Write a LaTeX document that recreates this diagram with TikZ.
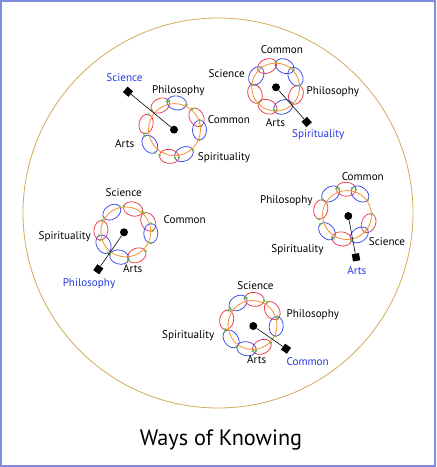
\documentclass[tikz,border=0pt]{standalone}
\usepackage{fontspec}
\setmainfont{PT Sans}
\usepackage{tikz}
\definecolor{framecol}{RGB}{128,140,224}
\definecolor{rimcol}{RGB}{212,172,92}
\definecolor{ringcol}{RGB}{246,146,50}
\definecolor{petred}{RGB}{234,60,72}
\definecolor{petblue}{RGB}{60,74,234}
\definecolor{jointcol}{RGB}{104,184,76}
\definecolor{keyblue}{RGB}{36,56,222}

\begin{document}
\begin{tikzpicture}[x=0.03cm,y=0.03cm,
  lbl/.style={anchor=base,font=\fontsize{9.5}{11}\selectfont},
  keylbl/.style={lbl,text=keyblue},
  petal/.style={line width=0.65pt},
  ring/.style={draw=ringcol,line width=0.7pt},
  joint/.style={fill=jointcol},
  hub/.style={circle,fill=black,inner sep=0pt,minimum size=6.8pt},
  tipbox/.style={rectangle,fill=black,inner sep=0pt,minimum size=6.2pt},
  stem/.style={line width=0.5pt}]
  \useasboundingbox (0,0) rectangle (436,467);
  \draw[framecol,line width=1.3pt] (0.8,0.8) rectangle (435.2,466.2);
  \draw[rimcol,line width=0.7pt] (218,254) circle (195);

  % wheel one
  \begin{scope}[shift={(172.5,337.4)}]
    \foreach \a/\c in {117/petred,81/petblue,27/petred,-1/petblue,-65/petblue,-97/petred,-147/petblue,168/petred} {
      \draw[petal,\c,rotate=\a] (27,0) ellipse (7 and 9.8);
      \fill[joint,rotate=\a] (27,9.8) circle (1.4) (27,-9.8) circle (1.4);
    }
    \draw[ring] (2,0) circle (26);
  \end{scope}
  \node[hub] (hubA) at (174,337.3) {};
  \node[tipbox,rotate=140] (tipA) at (128,375.3) {};
  \draw[stem] (hubA) -- (tipA);
  \node[keylbl] (sciA) at (124.5,385.7) {Science};
  \node[lbl] (phiA) at (178.3,373) {Philosophy};
  \node[lbl] (comA) at (229,343.7) {Common};
  \node[lbl] (artA) at (124.7,319.7) {Arts};
  \node[lbl] (spiA) at (224,306.3) {Spirituality};

  % wheel two
  \begin{scope}[shift={(275.7,380.7)}]
    \foreach \a/\c in {113/petred,66/petblue,26/petblue,-23/petred,-70/petblue,-112/petred,-160/petred,152/petblue} {
      \draw[petal,\c,rotate=\a] (22,0) ellipse (7 and 9.8);
      \fill[joint,rotate=\a] (22,9.8) circle (1.4) (22,-9.8) circle (1.4);
    }
    \draw[ring] (0,-0.8) circle (24);
  \end{scope}
  \node[hub] (hubB) at (276,379.7) {};
  \node[tipbox,rotate=-48] (tipB) at (306.7,345) {};
  \draw[stem] (hubB) -- (tipB);
  \node[lbl] (comB) at (282,413) {Common};
  \node[lbl] (sciB) at (226.7,389.7) {Science};
  \node[lbl] (phiB) at (332.8,372.7) {Philosophy};
  \node[lbl] (artB) at (275.5,340.3) {Arts};
  \node[keylbl] (spiB) at (318.3,329.7) {Spirituality};

  % wheel three
  \begin{scope}[shift={(125.8,234.1)}]
    \foreach \a/\c in {124/petblue,73/petred,26/petred,-1/petblue,-64/petred,-105/petblue,-153/petblue,174/petred} {
      \draw[petal,\c,rotate=\a] (25,0) ellipse (7 and 9.8);
      \fill[joint,rotate=\a] (25,9.8) circle (1.4) (25,-9.8) circle (1.4);
    }
    \draw[ring] (0,1) circle (25);
  \end{scope}
  \node[hub] (hubC) at (124,234.7) {};
  \node[tipbox,rotate=55] (tipC) at (98.3,197.7) {};
  \draw[stem] (hubC) -- (tipC);
  \node[lbl] (sciC) at (123.7,270.3) {Science};
  \node[lbl] (comC) at (184.7,243) {Common};
  \node[lbl] (spiC) at (64.7,227.3) {Spirituality};
  \node[lbl] (artC) at (132.7,194.7) {Arts};
  \node[keylbl] (phiC) at (89,180.3) {Philosophy};

  % wheel four
  \begin{scope}[shift={(345.3,252.8)}]
    \foreach \a/\c in {126/petblue,88/petred,54/petblue,-21/petred,-56/petblue,-98/petred,-137/petblue,169/petred} {
      \draw[petal,\c,rotate=\a] (25,0) ellipse (7 and 9.8);
      \fill[joint,rotate=\a] (25,9.8) circle (1.4) (25,-9.8) circle (1.4);
    }
    \draw[ring] (1.7,-0.8) circle (24.5);
  \end{scope}
  \node[hub] (hubD) at (348.3,251) {};
  \node[tipbox,rotate=10] (tipD) at (356,209.7) {};
  \draw[stem] (hubD) -- (tipD);
  \node[lbl] (comD) at (362.8,286.3) {Common};
  \node[lbl] (phiD) at (286.3,263) {Philosophy};
  \node[lbl] (sciD) at (387,221.3) {Science};
  \node[lbl] (spiD) at (297.5,214.7) {Spirituality};
  \node[keylbl] (artD) at (356.8,192.3) {Arts};

  % wheel five
  \begin{scope}[shift={(251.3,142.8)}]
    \foreach \a/\c in {122/petblue,83/petred,33/petred,-5/petblue,-65/petred,-101/petblue,-144/petblue,170/petred} {
      \draw[petal,\c,rotate=\a] (25,0) ellipse (7 and 9.8);
      \fill[joint,rotate=\a] (25,9.8) circle (1.4) (25,-9.8) circle (1.4);
    }
    \draw[ring] (1.2,-0.8) circle (24.5);
  \end{scope}
  \node[hub] (hubE) at (253.3,141) {};
  \node[tipbox,rotate=-35] (tipE) at (286,118.3) {};
  \draw[stem] (hubE) -- (tipE);
  \node[lbl] (sciE) at (255.5,177.7) {Science};
  \node[lbl] (phiE) at (312.8,149.7) {Philosophy};
  \node[lbl] (spiE) at (188.3,128.7) {Spirituality};
  \node[lbl] (artE) at (256.7,103) {Arts};
  \node[keylbl] (comE) at (307.7,101) {Common};

  \node[anchor=base,font=\fontsize{19}{22}\selectfont] (title) at (221,22) {Ways of Knowing};
\end{tikzpicture}
\end{document}
